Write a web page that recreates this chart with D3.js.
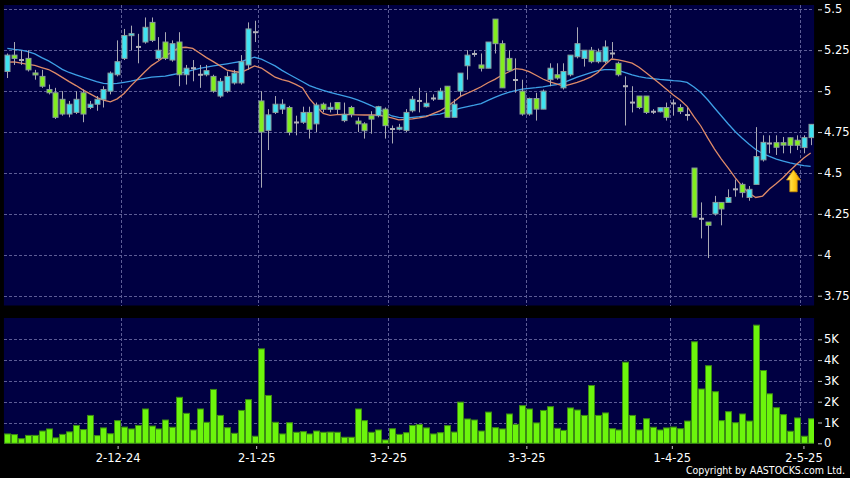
<!DOCTYPE html>
<html><head><meta charset="utf-8">
<script src="https://cdn.jsdelivr.net/npm/d3@7"></script>
<style>html,body{margin:0;padding:0;background:#000;overflow:hidden}svg{display:block}</style>
</head><body>
<svg id="chart" width="850" height="478"></svg>
<script>
// ---- data ----
const opens  = [5.12,5.22,5.19,5.20,5.11,5.09,5.01,4.99,4.95,4.86, 4.87,4.99,4.90,4.92,4.95,5.00,5.10,5.20,5.34,5.27, 5.30,5.42,5.20,5.30,5.19,5.30,5.10,5.14,5.10,5.10, 5.09,4.97,5.00,5.05,5.05,5.16,5.36,4.94,4.76,4.87, 4.89,4.90,4.81,4.81,4.87,4.80,4.92,4.89,4.93,4.82, 4.90,4.817,4.80,4.85,4.85,4.89,4.77,4.767,4.76,4.88, 4.94,4.905,4.955,4.95,5.03,4.84,5.00,5.155,5.227,5.16, 5.14,5.44,5.29,5.20,5.068,5.00,4.86,4.955,4.89,5.07, 5.10,5.02,5.10,5.21,5.20,5.25,5.18,5.18,5.23,5.17, 5.03,4.93,4.97,4.97,4.874,4.874,4.90,4.925,4.90,4.854, 4.53,4.22,4.20,4.25,4.32,4.32,4.40,4.43,4.35,4.43, 4.58,4.68,4.685,4.685,4.715,4.70,4.655,4.716];
const highs  = [5.23,5.30,5.25,5.25,5.13,5.13,5.04,5.02,5.00,4.94, 5.00,5.01,4.94,4.97,5.03,5.12,5.31,5.38,5.40,5.35, 5.45,5.45,5.33,5.36,5.31,5.36,5.16,5.19,5.16,5.16, 5.10,5.08,5.12,5.13,5.22,5.42,5.43,5.00,4.89,4.97, 4.95,4.91,4.85,4.905,4.905,4.93,4.93,4.93,4.93,4.93, 4.91,4.84,4.81,4.877,4.91,4.90,4.79,4.80,4.89,4.97, 5.02,4.99,4.98,5.02,5.03,4.95,5.11,5.25,5.25,5.23, 5.30,5.44,5.31,5.25,5.20,5.07,4.96,4.99,5.01,5.17, 5.17,5.17,5.22,5.39,5.25,5.27,5.26,5.31,5.30,5.18, 5.09,5.03,4.97,4.97,4.89,4.90,4.93,4.95,4.92,4.90, 4.53,4.32,4.20,4.36,4.32,4.40,4.46,4.44,4.42,4.78, 4.73,4.73,4.73,4.72,4.716,4.73,4.73,4.797];
const lows   = [5.08,5.16,5.16,5.12,5.07,5.02,4.98,4.83,4.85,4.84, 4.86,4.81,4.89,4.88,4.90,4.98,5.09,5.19,5.25,5.17, 5.29,5.30,5.19,5.19,5.18,5.03,5.04,5.06,5.02,5.09, 4.99,4.96,4.99,5.04,5.04,5.13,5.30,4.41,4.64,4.86, 4.86,4.73,4.73,4.80,4.71,4.75,4.87,4.87,4.86,4.81, 4.84,4.75,4.71,4.74,4.84,4.71,4.68,4.76,4.75,4.87, 4.87,4.90,4.94,4.95,4.84,4.84,4.97,5.07,5.21,5.12, 5.14,5.23,5.02,5.12,4.99,4.85,4.85,4.82,4.89,5.03, 5.07,5.01,5.09,5.20,5.15,5.17,5.17,5.17,5.20,5.09, 4.79,4.87,4.89,4.86,4.86,4.87,4.82,4.85,4.86,4.82, 4.23,4.10,3.98,4.24,4.18,4.32,4.355,4.35,4.33,4.43, 4.57,4.62,4.61,4.62,4.62,4.64,4.62,4.67];
const closes = [5.22,5.20,5.19,5.13,5.10,5.03,4.99,4.84,4.86,4.92, 4.95,4.86,4.92,4.95,5.01,5.11,5.18,5.34,5.35,5.27, 5.39,5.31,5.25,5.20,5.29,5.10,5.14,5.14,5.10,5.125, 5.00,5.06,5.09,5.11,5.18,5.38,5.36,4.75,4.855,4.92, 4.92,4.748,4.807,4.87,4.767,4.915,4.889,4.90,4.889,4.858, 4.858,4.80,4.758,4.829,4.905,4.789,4.767,4.779,4.87,4.95, 4.94,4.926,4.955,5.00,4.84,4.92,5.11,5.22,5.227,5.14, 5.30,5.29,5.02,5.125,5.068,4.86,4.955,4.89,5.00,5.14, 5.08,5.12,5.22,5.29,5.25,5.18,5.24,5.27,5.23,5.10, 5.03,4.93,4.90,4.87,4.874,4.899,4.84,4.925,4.875,4.854, 4.23,4.22,4.18,4.32,4.28,4.35,4.40,4.38,4.40,4.60, 4.687,4.68,4.657,4.67,4.669,4.669,4.716,4.797];
const volumesK = [0.45,0.42,0.22,0.38,0.38,0.59,0.69,0.26,0.43,0.55, 0.86,0.66,1.34,0.37,0.74,0.46,1.09,0.78,0.69,0.86, 1.65,0.83,0.69,1.12,0.77,2.21,1.44,0.64,1.65,1.01, 2.59,1.34,0.75,0.48,1.58,2.10,0.34,4.54,2.30,1.01, 0.45,0.99,0.53,0.56,0.45,0.59,0.53,0.54,0.53,0.29, 0.29,1.65,1.09,0.53,0.64,0.16,0.70,0.43,0.51,0.86, 0.90,0.74,0.45,0.51,0.85,0.54,1.98,1.17,1.12,0.59, 1.50,0.75,0.69,1.41,0.91,1.81,1.65,0.98,1.58,1.76, 0.72,0.62,1.70,1.60,1.34,2.78,1.34,1.46,0.70,0.64, 3.90,1.34,0.64,1.18,0.77,0.64,0.74,0.78,0.70,1.07, 4.88,2.61,3.73,2.48,1.09,1.52,0.99,1.41,1.07,5.68, 3.50,2.38,1.71,1.38,0.58,1.22,0.34,1.18];
const maShort = [5.177,5.179,5.171,5.163,5.157,5.144,5.132,5.110,5.084,5.058, 5.034,5.008,4.985,4.962,4.945,4.935,4.953,4.986,5.032,5.074, 5.117,5.156,5.184,5.215,5.240,5.266,5.268,5.261,5.233,5.205, 5.180,5.154,5.129,5.120,5.114,5.133,5.154,5.141,5.113,5.085, 5.070,5.059,5.041,5.019,4.954,4.906,4.864,4.852,4.856,4.858, 4.856,4.855,4.854,4.854,4.854,4.846,4.836,4.824,4.827,4.830, 4.836,4.844,4.862,4.879,4.905,4.935,4.968,4.987,5.006,5.027, 5.051,5.072,5.097,5.117,5.137,5.133,5.119,5.097,5.074,5.057, 5.044,5.031,5.042,5.053,5.069,5.087,5.114,5.160,5.196,5.191, 5.182,5.171,5.146,5.114,5.080,5.047,5.012,4.976,4.946,4.907, 4.844,4.787,4.714,4.646,4.585,4.530,4.472,4.420,4.378,4.350, 4.359,4.402,4.436,4.472,4.515,4.555,4.591,4.622];
const maLong = [5.261,5.255,5.250,5.241,5.228,5.205,5.185,5.160,5.133,5.114, 5.100,5.085,5.072,5.058,5.048,5.044,5.047,5.054,5.061,5.070, 5.078,5.085,5.089,5.092,5.100,5.108,5.118,5.128,5.139,5.146, 5.154,5.160,5.167,5.174,5.181,5.194,5.207,5.196,5.175,5.154, 5.127,5.103,5.080,5.057,5.034,5.018,5.005,4.992,4.981,4.971, 4.960,4.946,4.930,4.912,4.891,4.871,4.848,4.839,4.836,4.840, 4.844,4.849,4.855,4.860,4.872,4.884,4.896,4.905,4.914,4.924, 4.943,4.962,4.979,4.992,5.003,5.012,5.017,5.021,5.026,5.033, 5.040,5.052,5.069,5.086,5.100,5.113,5.125,5.132,5.132,5.127, 5.113,5.100,5.089,5.081,5.077,5.072,5.068,5.064,5.061,5.053, 5.025,4.991,4.947,4.897,4.848,4.799,4.753,4.714,4.677,4.643, 4.619,4.601,4.585,4.573,4.561,4.552,4.545,4.540];
const dateTickIndex = [17, 37, 56, 76, 97, 116];
const dateTickLabels = ["2-12-24", "2-1-25", "3-2-25", "3-3-25", "1-4-25", "2-5-25"];
const priceTicks = [3.75, 4, 4.25, 4.5, 4.75, 5, 5.25, 5.5];
const volumeTicks = [0, 1, 2, 3, 4, 5];
const signalArrow = {index: 114.5, top: 4.518, bottom: 4.385};

// ---- drawing ----
const svg = d3.select("#chart");
const n = closes.length;
const x = d3.scaleLinear().domain([-0.5, n - 0.5]).range([3.9, 814.1]);
const xTick = d3.scaleLinear().domain([-0.5, n - 0.5]).range([-0.15, 817.3]);
const y = d3.scaleLinear().domain([3.75, 5.5]).range([295.7, 9.3]);
const yv = d3.scaleLinear().domain([0, 6]).range([443.3, 318.5]);
const mainTop = 5, mainBot = 305.5, volTop = 318, volBot = 444;
const gridColor = "#5d5d96";
const font = "'DejaVu Sans', Verdana, sans-serif";

svg.append("rect").attr("width", 850).attr("height", 478).attr("fill", "#000");

const defs = svg.append("defs");
defs.append("clipPath").attr("id", "clipMain").append("rect")
  .attr("x", x.range()[0]).attr("y", mainTop).attr("width", x.range()[1] - x.range()[0]).attr("height", mainBot - mainTop);
defs.append("clipPath").attr("id", "clipVol").append("rect")
  .attr("x", x.range()[0]).attr("y", volTop).attr("width", x.range()[1] - x.range()[0]).attr("height", volBot - volTop);
const grad = defs.append("linearGradient").attr("id", "arrowGrad").attr("x1", 0).attr("y1", 0).attr("x2", 1).attr("y2", 0);
grad.append("stop").attr("offset", "0%").attr("stop-color", "#fff07a");
grad.append("stop").attr("offset", "55%").attr("stop-color", "#ffcc1a");
grad.append("stop").attr("offset", "100%").attr("stop-color", "#e89a00");

// panels
[[mainTop, mainBot], [volTop, volBot]].forEach(([t, b]) => {
  svg.append("rect").attr("x", x.range()[0]).attr("y", t)
    .attr("width", x.range()[1] - x.range()[0]).attr("height", b - t).attr("fill", "#000042");
});

// grid
const grid = svg.append("g").attr("stroke", gridColor).attr("stroke-width", 1).attr("stroke-dasharray", "3,2").attr("shape-rendering", "crispEdges");
grid.selectAll(".hp").data(priceTicks).join("line")
  .attr("x1", x.range()[0]).attr("x2", x.range()[1]).attr("y1", d => Math.round(y(d)) + 0.5).attr("y2", d => Math.round(y(d)) + 0.5);
grid.selectAll(".hv").data(volumeTicks.filter(d => d > 0)).join("line")
  .attr("x1", x.range()[0]).attr("x2", x.range()[1]).attr("y1", d => Math.round(yv(d)) + 0.5).attr("y2", d => Math.round(yv(d)) + 0.5);
dateTickIndex.forEach(i => {
  const gx = Math.round(x(i - 0.5)) + 0.5;
  grid.append("line").attr("x1", gx).attr("x2", gx).attr("y1", mainTop).attr("y2", mainBot);
  grid.append("line").attr("x1", gx).attr("x2", gx).attr("y1", volTop).attr("y2", volBot);
});

// moving averages
const line = d3.line().x((d, i) => x(i)).y(d => y(d));
const gMain = svg.append("g").attr("clip-path", "url(#clipMain)");
gMain.append("path").datum(maLong).attr("d", line).attr("fill", "none").attr("stroke", "#3d9fe6").attr("stroke-width", 1.3);
gMain.append("path").datum(maShort).attr("d", line).attr("fill", "none").attr("stroke", "#de8a68").attr("stroke-width", 1.3);

// candles
const idx = d3.range(n);
const isDoji = i => Math.abs(closes[i] - opens[i]) < 0.004;
const candles = gMain.append("g");
candles.selectAll("line.wick").data(idx).join("line").attr("class", "wick")
  .attr("x1", i => Math.round(x(i)) + 0.5).attr("x2", i => Math.round(x(i)) + 0.5)
  .attr("y1", i => y(highs[i])).attr("y2", i => y(lows[i]))
  .attr("stroke", "#a9a9b4").attr("stroke-width", 1);
candles.selectAll("rect.body").data(idx).join("rect").attr("class", "body")
  .attr("x", i => Math.round(x(i)) - 2)
  .attr("width", 5)
  .attr("y", i => {
    const t = y(Math.max(opens[i], closes[i])), b = y(Math.min(opens[i], closes[i]));
    return (b - t < 2) ? (t + b) / 2 - 1 : t;
  })
  .attr("height", i => Math.max(2, y(Math.min(opens[i], closes[i])) - y(Math.max(opens[i], closes[i]))))
  .attr("fill", i => isDoji(i) ? "#b0b0b8" : (closes[i] > opens[i] ? "#3fe3f2" : "#82ee1e"))
  .attr("stroke", i => isDoji(i) ? "none" : "#8a9c9c")
  .attr("stroke-width", 1);

// signal arrow
{
  const cx = x(signalArrow.index), t = y(signalArrow.top), b = y(signalArrow.bottom);
  const hw = 7, sw = 3.7, hh = 10;
  svg.append("path")
    .attr("d", `M${cx},${t} L${cx + hw},${t + hh} L${cx + sw},${t + hh} L${cx + sw},${b} L${cx - sw},${b} L${cx - sw},${t + hh} L${cx - hw},${t + hh} Z`)
    .attr("fill", "url(#arrowGrad)").attr("stroke", "#c98a00").attr("stroke-width", 0.8);
}

// volume bars
svg.append("g").attr("clip-path", "url(#clipVol)")
  .selectAll("rect").data(volumesK).join("rect")
  .attr("x", (d, i) => Math.round(x(i)) - 2.5)
  .attr("width", 6)
  .attr("y", d => yv(d))
  .attr("height", d => yv(0) - yv(d))
  .attr("fill", "#6cf50c").attr("stroke", "#3c8a14").attr("stroke-width", 1);

// axes
function styleAxis(g) {
  g.select(".domain").remove();
  g.selectAll(".tick line").attr("stroke", "#c8c8c8");
  g.selectAll(".tick text").attr("fill", "#ffffff").attr("font-family", font).attr("font-size", "11.5px");
}
svg.append("g").attr("transform", "translate(818,0)")
  .call(d3.axisRight(y).tickValues(priceTicks).tickSize(4).tickPadding(2).tickFormat(d3.format("")))
  .call(styleAxis);
svg.append("g").attr("transform", "translate(818,0)")
  .call(d3.axisRight(yv).tickValues(volumeTicks).tickSize(4).tickPadding(2).tickFormat(d => d === 0 ? "0" : d + "K"))
  .call(styleAxis);
svg.append("g").attr("transform", "translate(0,446)")
  .call(d3.axisBottom(xTick).tickValues(dateTickIndex.map(i => i - 0.5)).tickSize(3).tickPadding(4.5)
    .tickFormat((d, k) => dateTickLabels[k]))
  .call(styleAxis);

svg.append("text").attr("x", 845).attr("y", 473.5).attr("text-anchor", "end")
  .attr("fill", "#ffffff").attr("font-family", "'DejaVu Sans Condensed', 'DejaVu Sans', sans-serif")
  .attr("font-stretch", "condensed").attr("font-size", "10.5px")
  .text("Copyright by AASTOCKS.com Ltd.");
</script>
</body></html>
